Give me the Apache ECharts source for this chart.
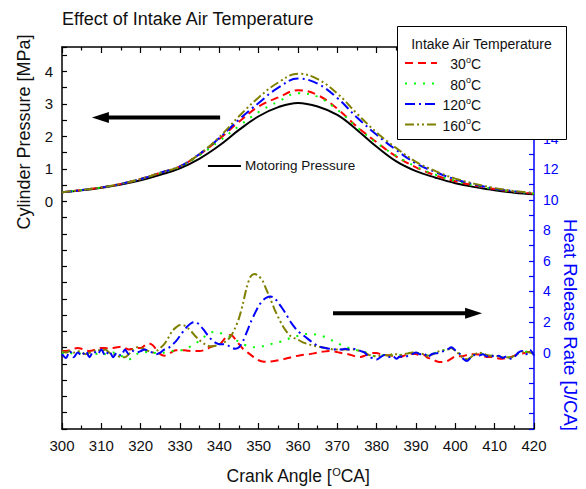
<!DOCTYPE html>
<html>
<head>
<meta charset="utf-8">
<script src="https://cdn.jsdelivr.net/npm/echarts@6/dist/echarts.min.js"></script>
<style>
  html, body { margin: 0; padding: 0; background: #fff; }
  #chart { width: 586px; height: 489px; }
</style>
</head>
<body>
<div id="chart"></div>
<script>
const FONT = '"Liberation Sans", Arial, Helvetica, sans-serif';

// Cylinder pressure traces [MPa], sampled every 5 °CA
const pressureAngles = [300,305,310,315,320,325,330,335,340,345,350,355,360,365,370,375,380,385,390,395,400,405,410,415,420];
const motoringPressure = [0.28,0.34,0.42,0.52,0.65,0.82,1.02,1.32,1.72,2.20,2.62,2.90,3.03,2.92,2.66,2.20,1.68,1.23,0.93,0.73,0.56,0.44,0.34,0.27,0.22];
const pressure30  = [0.28,0.35,0.43,0.54,0.69,0.88,1.08,1.45,1.92,2.45,2.92,3.20,3.42,3.27,2.85,2.30,1.82,1.38,1.05,0.80,0.62,0.49,0.38,0.30,0.24];
const pressure80  = [0.28,0.35,0.43,0.54,0.69,0.87,1.07,1.42,1.86,2.32,2.75,3.07,3.33,3.22,2.82,2.28,1.80,1.40,1.07,0.82,0.63,0.49,0.38,0.30,0.24];
const pressure120 = [0.28,0.35,0.43,0.54,0.69,0.88,1.08,1.46,1.95,2.52,3.03,3.50,3.78,3.62,3.18,2.58,2.05,1.58,1.17,0.90,0.68,0.52,0.40,0.31,0.25];
const pressure160 = [0.28,0.35,0.43,0.54,0.69,0.88,1.08,1.46,1.98,2.62,3.20,3.66,3.93,3.76,3.32,2.70,2.12,1.64,1.22,0.93,0.70,0.54,0.41,0.32,0.26];

// Heat release rate [J/CA], one value per °CA from 300 to 420
const hrrAngles = Array.from({ length: 121 }, (_, i) => 300 + i);
const hrr30 = [
  0.1,0.1,0.15,0.25,0.3,0.25,0.15,0.1,0.15,0.25,
  0.3,0.3,0.25,0.3,0.35,0.38,0.3,0.2,0.25,0.3,
  0.3,0.45,0.6,0.5,0.2,-0.1,-0.2,-0.1,0.05,0.15,
  0.15,0.15,0.12,0.1,0.1,0.1,0.15,0.25,0.4,0.45,
  0.5,0.8,1.1,1.15,0.9,0.55,0.25,0.05,-0.15,-0.35,
  -0.5,-0.58,-0.6,-0.58,-0.55,-0.5,-0.45,-0.38,-0.32,-0.25,
  -0.2,-0.15,-0.13,-0.1,-0.05,0.0,0.05,0.08,0.1,0.08,
  0.03,-0.03,-0.07,-0.12,-0.2,-0.27,-0.28,-0.2,-0.1,-0.03,
  -0.03,-0.1,-0.15,-0.18,-0.2,-0.25,-0.28,-0.2,-0.1,-0.07,
  -0.1,-0.18,-0.15,-0.35,-0.4,-0.55,-0.62,-0.62,-0.55,-0.4,
  -0.25,-0.24,-0.22,-0.15,-0.1,-0.1,-0.12,-0.2,-0.29,-0.29,
  -0.3,-0.38,-0.4,-0.35,-0.3,-0.2,-0.1,-0.07,0.0,0.05,
  -0.05
];
const hrr80 = [
  0.0,-0.1,0.0,-0.1,0.0,-0.1,0.0,-0.1,0.0,-0.1,
  0.0,-0.1,-0.05,0.0,-0.1,-0.2,-0.35,-0.45,-0.3,-0.1,
  0.0,0.05,0.0,-0.05,0.0,-0.05,0.0,0.05,0.1,0.15,
  0.15,0.2,0.3,0.45,0.6,0.8,1.0,1.2,1.33,1.36,
  1.3,1.22,1.15,1.0,0.85,0.7,0.55,0.45,0.38,0.35,
  0.38,0.42,0.48,0.55,0.62,0.68,0.75,0.85,0.95,1.03,
  1.1,1.18,1.22,1.22,1.21,1.17,1.1,1.0,0.88,0.75,
  0.62,0.5,0.4,0.3,0.2,0.15,0.1,0.05,-0.1,-0.2,
  -0.25,-0.2,-0.15,-0.2,-0.15,-0.2,-0.15,-0.1,-0.05,0.0,
  0.0,-0.05,-0.1,-0.2,-0.1,0.0,0.1,0.15,0.25,0.3,
  0.15,-0.05,-0.35,-0.45,-0.3,-0.1,-0.05,-0.1,-0.15,-0.2,
  -0.2,-0.25,-0.3,-0.3,-0.3,-0.2,-0.05,0.0,0.05,0.05,
  -0.05
];
const hrr120 = [
  -0.1,-0.35,0.1,-0.3,0.0,-0.2,0.1,-0.3,0.1,-0.1,
  0.2,-0.2,0.1,-0.3,0.0,-0.2,0.2,-0.1,0.1,0.0,
  0.1,0.2,0.1,0.0,-0.1,0.0,0.2,0.3,0.5,0.75,
  1.1,1.45,1.75,1.95,2.0,1.8,1.5,1.15,0.85,0.65,
  0.55,0.55,0.5,0.35,0.25,0.35,0.75,1.35,2.0,2.55,
  3.05,3.4,3.6,3.67,3.58,3.25,2.9,2.5,2.05,1.7,
  1.4,1.2,1.0,0.8,0.6,0.45,0.35,0.3,0.25,0.2,
  0.25,0.2,0.25,0.2,0.25,0.2,0.1,0.0,-0.3,-0.35,
  -0.45,-0.3,-0.15,-0.3,-0.2,-0.4,-0.25,-0.3,-0.2,-0.1,
  0.0,-0.1,-0.05,-0.3,-0.1,-0.05,0.0,0.1,0.2,0.35,
  0.15,-0.05,-0.4,-0.55,-0.3,-0.15,-0.2,-0.1,-0.25,-0.15,
  -0.3,-0.2,-0.35,-0.25,-0.4,-0.3,0.0,0.1,-0.1,0.15,
  -0.2
];
const hrr160 = [
  0.1,0.0,0.1,0.0,0.1,0.0,-0.1,0.0,0.1,0.2,
  0.1,0.2,0.0,-0.1,-0.2,-0.3,-0.3,-0.1,0.2,0.35,
  0.3,0.2,0.1,0.0,0.1,0.3,0.55,0.95,1.4,1.65,
  1.8,1.78,1.6,1.35,1.05,0.8,0.6,0.45,0.4,0.45,
  0.55,0.65,0.8,1.1,1.6,2.25,3.2,4.3,5.0,5.15,
  5.0,4.7,4.1,3.5,2.85,2.3,1.8,1.4,1.1,0.95,
  0.85,0.7,0.6,0.52,0.45,0.4,0.35,0.3,0.25,0.2,
  0.2,0.2,0.2,0.2,0.2,0.15,0.1,0.0,-0.15,-0.2,
  -0.25,-0.2,-0.15,-0.2,-0.1,-0.1,-0.15,-0.1,-0.05,0.0,
  0.0,-0.05,-0.1,-0.2,-0.15,0.0,0.1,0.15,0.2,0.3,
  0.1,-0.1,-0.35,-0.45,-0.3,-0.1,0.0,-0.05,-0.15,-0.2,
  -0.2,-0.25,-0.3,-0.3,-0.35,-0.2,-0.05,0.05,0.05,0.0,
  -0.1
];

// Intake air temperatures and their line styles
const temperatures = ['30', '80', '120', '160'];
const tempColors = ['#ff0000', '#00ff00', '#0000ff', '#808000'];
const tempDashes = [[8, 5], [2, 7], [10, 4, 2, 4], [9, 3, 2, 3, 2, 3]];
const pressureSets = [pressure30, pressure80, pressure120, pressure160];
const hrrSets = [hrr30, hrr80, hrr120, hrr160];

// Axis ranges
const angleMin = 300, angleMax = 420, angleStep = 10;
const pressureMin = -7, pressureMax = 4.75;
const hrrMin = -5, hrrMax = 20, hrrLabelTop = 14;

const zip = (xs, ys) => xs.map((x, i) => [x, ys[i]]);
const supRich = size => ({ sup: { fontSize: size, verticalAlign: 'top', lineHeight: size, padding: [0, 0, 0, 0] } });

const chart = echarts.init(document.getElementById('chart'), null, { renderer: 'svg' });

const black = { color: '#000', width: 1.5 };
const series = [];
series.push({
  type: 'line', name: 'Motoring Pressure', xAxisIndex: 0, yAxisIndex: 0,
  data: zip(pressureAngles, motoringPressure), showSymbol: false, symbol: 'none',
  smooth: 0.4, lineStyle: { color: '#000', width: 2 }, z: 3
});
temperatures.forEach((t, k) => {
  series.push({
    type: 'line', name: t + ' P', xAxisIndex: 0, yAxisIndex: 0,
    data: zip(pressureAngles, pressureSets[k]), showSymbol: false, symbol: 'none',
    smooth: 0.4, lineStyle: { color: tempColors[k], width: 2, type: tempDashes[k] }, z: 4
  });
});
[0, 1, 3, 2].forEach(k => {
  series.push({
    type: 'line', name: temperatures[k] + ' HRR', xAxisIndex: 0, yAxisIndex: 1,
    data: zip(hrrAngles, hrrSets[k]), showSymbol: false, symbol: 'none',
    smooth: 0.3, lineStyle: { color: tempColors[k], width: 2, type: tempDashes[k] }, z: 4
  });
});

chart.setOption({
  animation: false,
  backgroundColor: '#fff',
  grid: { left: 62, right: 52, top: 47, bottom: 60, outerBoundsMode: 'none', containLabel: false },
  xAxis: [
    {
      type: 'value', position: 'bottom', min: angleMin, max: angleMax, interval: angleStep,
      axisLine: { show: true, onZero: false, lineStyle: black },
      axisTick: { show: true, inside: true, length: 6, lineStyle: { color: '#000', width: 1.2 } },
      minorTick: { show: true, splitNumber: 2, length: 3.5, lineStyle: { color: '#000', width: 1.2 } },
      axisLabel: { color: '#111', fontSize: 15, fontFamily: FONT, margin: 9 },
      splitLine: { show: false },
      name: 'Crank Angle [{sup|O}CA]', nameLocation: 'middle', nameGap: 37,
      nameTextStyle: { color: '#111', fontSize: 17.5, fontFamily: FONT, lineHeight: 20, rich: supRich(11) }
    },
    {
      type: 'value', position: 'top', min: angleMin, max: angleMax, interval: angleStep,
      axisLine: { show: true, onZero: false, lineStyle: black },
      axisTick: { show: true, inside: true, length: 6, lineStyle: { color: '#000', width: 1.2 } },
      minorTick: { show: true, splitNumber: 2, length: 3.5, lineStyle: { color: '#000', width: 1.2 } },
      axisLabel: { show: false }, splitLine: { show: false }
    }
  ],
  yAxis: [
    {
      type: 'value', position: 'left', min: pressureMin, max: pressureMax, interval: 0.5,
      axisLine: { show: true, onZero: false, lineStyle: black },
      axisTick: { show: true, inside: true, length: 5, lineStyle: { color: '#000', width: 1.2 } },
      axisLabel: {
        color: '#111', fontSize: 15, fontFamily: FONT, margin: 9,
        formatter: v => (v >= 0 && v <= 4 && Number.isInteger(v)) ? String(v) : ''
      },
      splitLine: { show: false }
    },
    {
      type: 'value', position: 'right', min: hrrMin, max: hrrMax, interval: 1,
      axisLine: { show: true, onZero: false, lineStyle: { color: '#0000ff', width: 1.5 } },
      axisTick: { show: true, inside: true, length: 5, lineStyle: { color: '#0000ff', width: 1.2 } },
      axisLabel: {
        color: '#0000ff', fontSize: 14, fontFamily: FONT, margin: 9,
        formatter: v => (v >= 0 && v <= hrrLabelTop && Number.isInteger(v) && v % 2 === 0) ? String(v) : ''
      },
      splitLine: { show: false }
    }
  ],
  series: series
});

// Annotations placed in data coordinates
const P = (a, v) => chart.convertToPixel({ xAxisIndex: 0, yAxisIndex: 0 }, [a, v]);
const H = (a, v) => chart.convertToPixel({ xAxisIndex: 0, yAxisIndex: 1 }, [a, v]);

function arrow(tail, tip) {
  const dir = tip[0] > tail[0] ? 1 : -1;
  const y = tail[1];
  const headLen = 17, headHalf = 5.5, shaftHalf = 2;
  const baseX = tip[0] - dir * headLen;
  return {
    type: 'polygon', z: 50,
    shape: { points: [
      [tail[0], y - shaftHalf], [baseX, y - shaftHalf], [baseX, y - headHalf],
      [tip[0], y], [baseX, y + headHalf], [baseX, y + shaftHalf], [tail[0], y + shaftHalf]
    ] },
    style: { fill: '#000' }
  };
}

const leftTail = P(340.2, 2.58), leftTip = P(307.6, 2.58);
const rightTail = H(368.9, 2.57), rightTip = H(406.8, 2.57);
const motA = P(337.1, 1.09), motB = P(345.5, 1.09), motText = P(346.5, 1.09);

// Legend box
const legendBox = { x: 397, y: 26, w: 169, h: 113 };
const rowY = [63, 83.5, 104, 124.5];
const legendItems = [];
legendItems.push({ type: 'rect', z: 100, shape: { x: legendBox.x + 0.5, y: legendBox.y + 0.5, width: legendBox.w, height: legendBox.h },
  style: { fill: '#fff', stroke: '#000', lineWidth: 1 } });
legendItems.push({ type: 'text', z: 101, x: 481.5, y: 44,
  style: { text: 'Intake Air Temperature', fill: '#111', font: '14px ' + FONT, align: 'center', verticalAlign: 'middle' } });
temperatures.forEach((t, k) => {
  legendItems.push({ type: 'line', z: 101, shape: { x1: 405, y1: rowY[k], x2: 437, y2: rowY[k] },
    style: { stroke: tempColors[k], lineWidth: 2, lineDash: tempDashes[k] } });
  legendItems.push({ type: 'text', z: 101, x: 481, y: rowY[k] + 1,
    style: { text: t + '{sup|o}C', fill: '#111', font: '14px ' + FONT, align: 'right', verticalAlign: 'middle',
      lineHeight: 18, rich: supRich(9) } });
});

chart.setOption({
  graphic: [
    { type: 'text', z: 100, x: 62, y: 19,
      style: { text: 'Effect of Intake Air Temperature', fill: '#111', font: '18px ' + FONT, align: 'left', verticalAlign: 'middle' } },
    { type: 'text', z: 100, x: 24, y: 132, rotation: Math.PI / 2,
      style: { text: 'Cylinder Pressure [MPa]', fill: '#111', font: '18px ' + FONT, align: 'center', verticalAlign: 'middle' } },
    { type: 'text', z: 100, x: 570, y: 325, rotation: -Math.PI / 2,
      style: { text: 'Heat Release Rate [J/CA]', fill: '#0000ff', font: '18.5px ' + FONT, align: 'center', verticalAlign: 'middle' } },
    arrow(leftTail, leftTip),
    arrow(rightTail, rightTip),
    { type: 'line', z: 50, shape: { x1: motA[0], y1: motA[1], x2: motB[0], y2: motB[1] }, style: { stroke: '#000', lineWidth: 2 } },
    { type: 'text', z: 50, x: motText[0], y: motText[1],
      style: { text: 'Motoring Pressure', fill: '#111', font: '13.5px ' + FONT, align: 'left', verticalAlign: 'middle' } },
    ...legendItems
  ]
});
</script>
</body>
</html>
